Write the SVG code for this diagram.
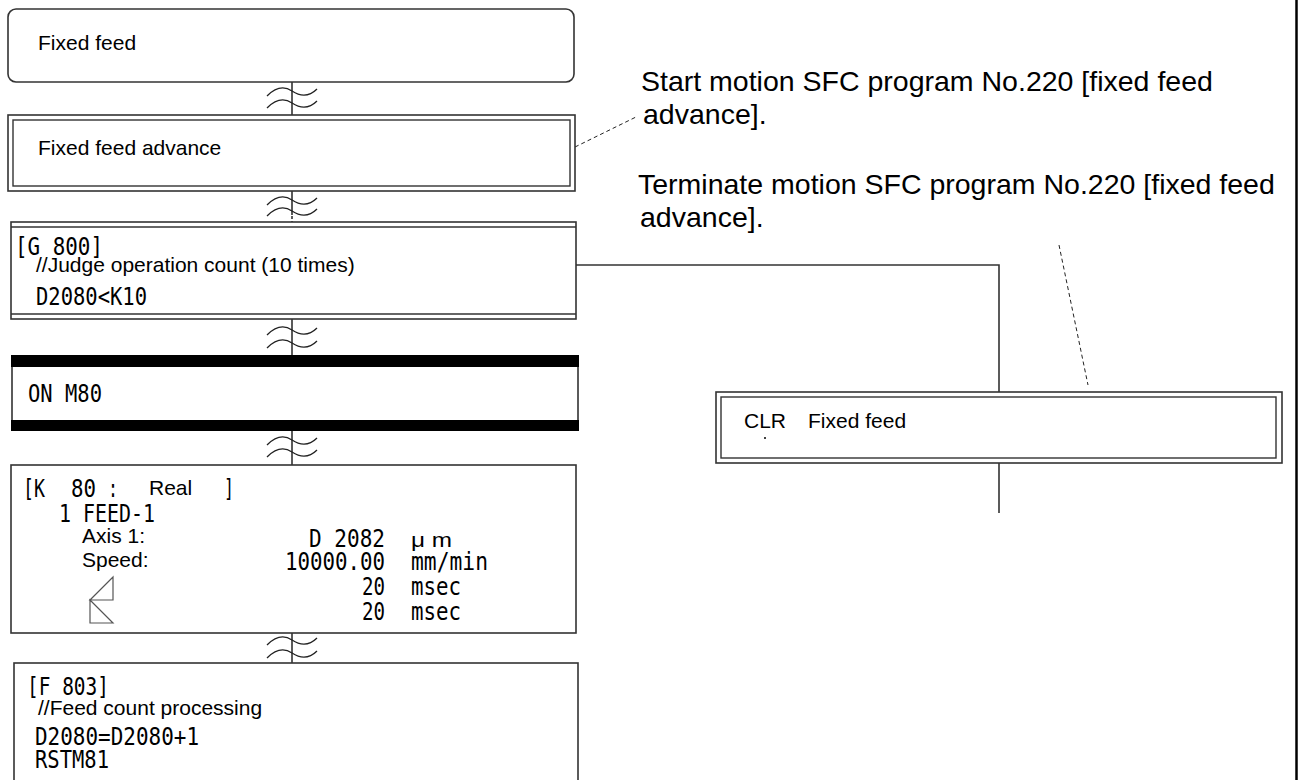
<svg xmlns="http://www.w3.org/2000/svg" width="1298" height="780" viewBox="0 0 1298 780">
<defs>
<style>
.box{fill:#fff;stroke:#333;stroke-width:1.6}
.in{fill:none;stroke:#333;stroke-width:1.4}
.ln{fill:none;stroke:#333;stroke-width:1.6}
.bar{fill:#000;stroke:none}
.wave{fill:none;stroke:#222;stroke-width:1.3}
.dash{fill:none;stroke:#222;stroke-width:1;stroke-dasharray:4 3}
.icon{fill:none;stroke:#555;stroke-width:1.2}
.a{font-family:"Liberation Sans",Arial,sans-serif;font-size:21px;fill:#000}
.g{font-family:"DejaVu Sans Mono","Liberation Mono",monospace;font-size:24px;fill:#000}
.n{font-family:"Liberation Sans",Arial,sans-serif;font-size:28.5px;fill:#000}
</style>
<path id="w" d="M-25,4 C-15,-6 -6,-5 0,-1 C6,3 15,7 25,-3"/>
</defs>
<rect width="1298" height="780" fill="#fff"/>

<g id="connectors">
<path class="ln" d="M292,82 V115 M292,191 V215 M292,319 V356 M292,430 V465 M292,633 V663"/>
<path class="ln" d="M292,216 V222" stroke-dasharray="3 2"/>
<use href="#w" class="wave" x="292" y="92"/>
<use href="#w" class="wave" x="292" y="104"/>
<use href="#w" class="wave" x="292" y="201"/>
<use href="#w" class="wave" x="292" y="212"/>
<use href="#w" class="wave" x="292" y="331"/>
<use href="#w" class="wave" x="292" y="344"/>
<use href="#w" class="wave" x="292" y="441"/>
<use href="#w" class="wave" x="292" y="453"/>
<use href="#w" class="wave" x="292" y="641"/>
<use href="#w" class="wave" x="292" y="654"/>
<path class="ln" d="M576,265 H999 V392 M999,463 V513"/>
<path class="dash" d="M575,147 L636,117"/>
<path class="dash" d="M1059,245 L1088,385"/>
<line x1="1296.5" y1="0" x2="1296.5" y2="780" stroke="#000" stroke-width="2.5"/>
</g>

<g id="fixed-feed">
<rect class="box" x="8" y="9" width="566" height="73" rx="8"/>
<text class="a" x="38" y="50">Fixed feed</text>
</g>

<g id="fixed-feed-advance">
<rect class="box" x="8" y="115" width="567" height="76"/>
<rect class="in" x="13" y="120" width="557" height="66"/>
<text class="a" x="38" y="155">Fixed feed advance</text>
</g>

<g id="g800">
<rect class="box" x="11" y="222" width="565" height="97"/>
<path class="ln" d="M11,227 H576 M11,314 H576"/>
<text class="g" x="15" y="255" textLength="88" lengthAdjust="spacingAndGlyphs">[G 800]</text>
<text class="a" x="36" y="272">//Judge operation count (10 times)</text>
<text class="g" x="36" y="305" textLength="111" lengthAdjust="spacingAndGlyphs">D2080&lt;K10</text>
</g>

<g id="on-m80">
<rect class="box" x="12" y="356" width="566" height="74"/>
<rect class="bar" x="11" y="355" width="568" height="12"/>
<rect class="bar" x="11" y="420" width="568" height="11"/>
<text class="g" x="28" y="402" textLength="74" lengthAdjust="spacingAndGlyphs">ON M80</text>
</g>

<g id="k80">
<rect class="box" x="11" y="465" width="565" height="168"/>
<text class="g" x="23" y="497" textLength="22" lengthAdjust="spacingAndGlyphs">[K</text>
<text class="g" x="71" y="497" textLength="25" lengthAdjust="spacingAndGlyphs">80</text>
<text class="g" x="108" y="497" textLength="10" lengthAdjust="spacingAndGlyphs">:</text>
<text class="a" x="149" y="495">Real</text>
<text class="g" x="224" y="497" textLength="10" lengthAdjust="spacingAndGlyphs">]</text>
<text class="g" x="59" y="522" textLength="96" lengthAdjust="spacingAndGlyphs">1 FEED-1</text>
<text class="a" x="82" y="543">Axis 1:</text>
<text class="a" x="82" y="567">Speed:</text>
<text class="g" x="309" y="547" textLength="76" lengthAdjust="spacingAndGlyphs">D 2082</text>
<text class="a" x="411" y="547" textLength="41" lengthAdjust="spacingAndGlyphs">μ m</text>
<text class="g" x="285" y="570" textLength="100" lengthAdjust="spacingAndGlyphs">10000.00</text>
<text class="g" x="411" y="570" textLength="77" lengthAdjust="spacingAndGlyphs">mm/min</text>
<text class="g" x="362" y="595" textLength="23" lengthAdjust="spacingAndGlyphs">20</text>
<text class="g" x="411" y="595" textLength="50" lengthAdjust="spacingAndGlyphs">msec</text>
<text class="g" x="362" y="620" textLength="23" lengthAdjust="spacingAndGlyphs">20</text>
<text class="g" x="411" y="620" textLength="50" lengthAdjust="spacingAndGlyphs">msec</text>
<polygon class="icon" points="113,577 113,600 90,600"/>
<polygon class="icon" points="90,600 113,623 90,623"/>
</g>

<g id="f803">
<rect class="box" x="14" y="663" width="564" height="130"/>
<text class="g" x="27" y="695" textLength="82" lengthAdjust="spacingAndGlyphs">[F 803]</text>
<text class="a" x="38" y="715">//Feed count processing</text>
<text class="g" x="35" y="745" textLength="164" lengthAdjust="spacingAndGlyphs">D2080=D2080+1</text>
<text class="g" x="35" y="768" textLength="74" lengthAdjust="spacingAndGlyphs">RSTM81</text>
</g>

<g id="clr-fixed-feed">
<rect class="box" x="716" y="392" width="566" height="71"/>
<rect class="in" x="721" y="397" width="555" height="61"/>
<text class="a" x="744" y="428">CLR</text>
<text class="a" x="808" y="428">Fixed feed</text>
<circle cx="765" cy="438" r="1" fill="#000"/>
</g>

<g id="notes">
<text class="n" x="641" y="91">Start motion SFC program No.220 [fixed feed</text>
<text class="n" x="643" y="124">advance].</text>
<text class="n" x="638" y="194">Terminate motion SFC program No.220 [fixed feed</text>
<text class="n" x="640" y="227">advance].</text>
</g>
</svg>
